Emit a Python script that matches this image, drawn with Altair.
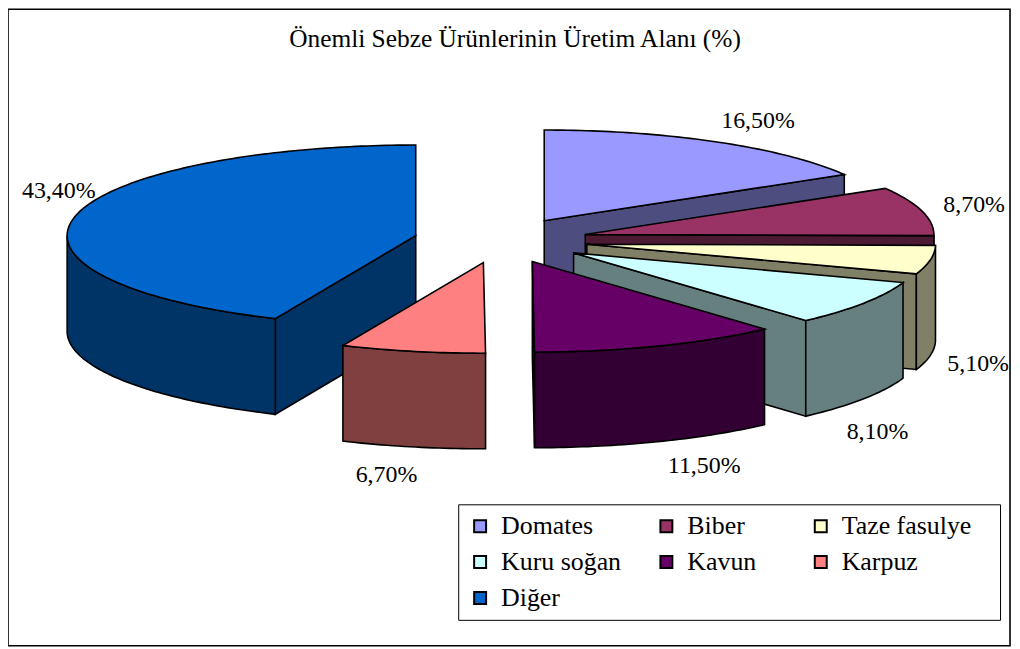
import math
import altair as alt

# ---- data ----
names = ["Domates", "Biber", "Taze fasulye", "Kuru soğan", "Kavun", "Karpuz", "Diğer"]
shares = [16.5, 8.7, 5.1, 8.1, 11.5, 6.7, 43.4]
labels = ["16,50%", "8,70%", "5,10%", "8,10%", "11,50%", "6,70%", "43,40%"]
top_colors = ["#9999FF", "#993366", "#FFFFCC", "#CCFFFF", "#660066", "#FF8080", "#0066CC"]
side_colors = ["#4D4D80", "#4D1A33", "#808066", "#668080", "#330033", "#804040", "#003366"]
title_text = "Önemli Sebze Ürünlerinin Üretim Alanı (%)"
# centre of each percentage label, relative to the pie centre (label placement)
label_dx = [258, 475, 479, 378, 204, -115, -444]
label_dy = [-120, -35, 124, 192, 227, 236, -50]

# ---- pie geometry (a tilted, exploded 3-D pie) ----
CX, CY = 495, 232      # pie centre inside the plot area
RX, RY = 350, 91       # ellipse radii of the top face
DEPTH = 96             # extrusion of the pie
EXPLODE = 0.25         # share of radius every slice is pulled out


def rim(ax, ay, a, dy=0):
    t = math.radians(a)
    return [ax + RX * math.sin(t), ay - RY * math.cos(t) + dy]


def arc(ax, ay, a0, a1, dy=0):
    n = max(2, int(abs(a1 - a0)) + 2)
    return [rim(ax, ay, a0 + (a1 - a0) * i / (n - 1), dy) for i in range(n)]


def feature(poly, **props):
    ring = list(poly) + [poly[0]]
    return {"type": "Feature", "geometry": {"type": "Polygon", "coordinates": [ring]}, **props}


walls, tops = [], []
draw_order = [6, 5, 0, 1, 2, 3, 4]
starts = [sum(shares[:i]) * 3.6 for i in range(len(shares))]
for i in draw_order:
    a0 = starts[i]
    a1 = a0 + shares[i] * 3.6
    m = math.radians((a0 + a1) / 2)
    ax = CX + EXPLODE * RX * math.sin(m)
    ay = CY - EXPLODE * RY * math.cos(m)
    side = side_colors[i]
    # radial wall that faces the viewer
    if a1 <= 180:
        e = rim(ax, ay, a1)
        walls.append(feature([[ax, ay], e, [e[0], e[1] + DEPTH], [ax, ay + DEPTH]], color=side))
    elif a0 >= 180:
        e = rim(ax, ay, a0)
        walls.append(feature([[ax, ay], e, [e[0], e[1] + DEPTH], [ax, ay + DEPTH]], color=side))
    # outer rim wall, only the front half is visible
    w0, w1 = max(a0, 90), min(a1, 270)
    if w1 > w0:
        walls.append(feature(arc(ax, ay, w0, w1) + arc(ax, ay, w1, w0, DEPTH), color=side))
    tops.append(feature([[ax, ay]] + arc(ax, ay, a0, a1), name=names[i]))

texts = [{"label": l, "x": CX + dx, "y": CY + dy} for l, dx, dy in zip(labels, label_dx, label_dy)]

FONT = "Liberation Serif"
proj = alt.Projection(type="identity", scale=1, translate=[0, 0])

wall_layer = alt.Chart(alt.Data(values=walls)).mark_geoshape(
    stroke="black", strokeWidth=1.6, strokeJoin="miter"
).encode(fill=alt.Fill("color:N", scale=None)).project(**proj.to_dict())

top_layer = alt.Chart(alt.Data(values=tops)).mark_geoshape(
    stroke="black", strokeWidth=1.6, strokeJoin="miter"
).encode(
    fill=alt.Fill(
        "name:N",
        scale=alt.Scale(domain=names, range=top_colors),
        legend=alt.Legend(
            title=None, orient="none", legendX=452, legendY=497, columns=3, direction="horizontal",
            fillColor="white", strokeColor="black", padding=9,
            symbolType="square", symbolSize=144, symbolStrokeColor="black", symbolStrokeWidth=2,
            labelFont=FONT, labelFontSize=26, labelColor="black", labelLimit=400,
            labelOffset=8, rowPadding=10, columnPadding=32,
            labelExpr="datum.label == 'Kavun' ? 'Kavun\\u00a0\\u00a0\\u00a0\\u200b' : datum.label == 'Taze fasulye' ? 'Taze fasulye\\u00a0\\u00a0\\u00a0\\u200b' : datum.label",
        ),
    )
).project(**proj.to_dict())

text_layer = alt.Chart(alt.Data(values=texts)).mark_text(
    font=FONT, fontSize=24, color="black", align="center", baseline="middle"
).encode(longitude="x:Q", latitude="y:Q", text="label:N").project(**proj.to_dict())

chart = alt.layer(wall_layer, top_layer, text_layer).properties(
    width=1006, height=639,
    autosize=alt.AutoSizeParams(type="none"),
    padding={"left": 0, "top": 0, "right": 2, "bottom": 2},
    view=alt.ViewBackground(stroke="black", strokeWidth=1.6, fill="white"),
    title=alt.TitleParams(title_text, font=FONT, fontSize=25.5, fontWeight="normal", color="black",
                          anchor="middle", orient="top", dy=47, dx=6),
).configure(background="white")

chart.save("out.html", embed_options={"renderer": "svg", "actions": False})
